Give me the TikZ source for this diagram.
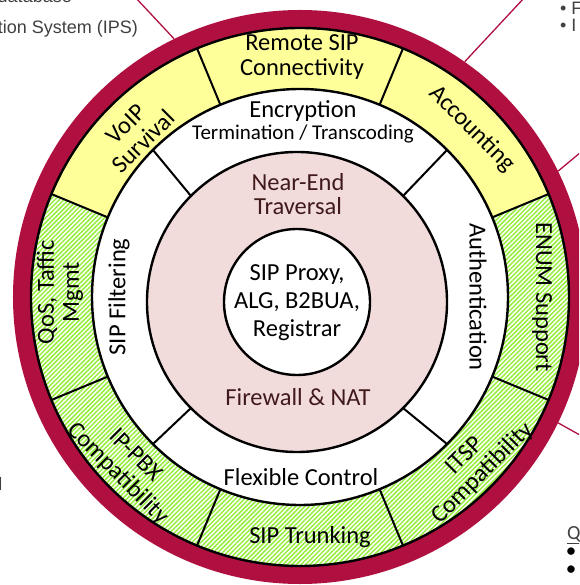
\documentclass[tikz,border=0pt]{standalone}
\usepackage{fontspec}
\setmainfont{Carlito}
\newfontfamily\slidefont{Liberation Sans}
\usepackage{xcolor}
\usepackage{tikz}
\usetikzlibrary{positioning,calc,patterns.meta}

\definecolor{ringred}{RGB}{176,16,64}
\definecolor{segyellow}{RGB}{255,255,153}
\definecolor{hatchgreen}{RGB}{150,238,60}
\definecolor{corepink}{RGB}{242,220,219}
\definecolor{corebrown}{RGB}{64,26,26}
\definecolor{slidegray}{RGB}{64,64,64}

\begin{document}
\begin{tikzpicture}[
    x=1pt, y=1pt,
    rim/.style={circle, fill=ringred, minimum size=574pt, inner sep=0pt},
    ring/.style={draw=black, line width=2.4pt},
    divider/.style={draw=black, line width=2pt},
    yellowseg/.style={fill=segyellow},
    greenseg/.style={pattern={Lines[angle=45,distance=3.2pt,line width=1.5pt]}, pattern color=hatchgreen},
    ringtext/.style={font=\fontsize{24.5}{25}\selectfont, align=center, inner sep=0pt},
    smalltext/.style={font=\fontsize{21}{23}\selectfont, align=center, inner sep=0pt},
    coretext/.style={ringtext, text=corebrown, font=\fontsize{24.5}{23.5}\selectfont},
    slidetext/.style={font=\slidefont\fontsize{18}{22}\selectfont, text=slidegray, inner sep=0pt},
    pointer/.style={draw=ringred, line width=1.3pt}
]
\useasboundingbox (-300,-288) rectangle (279,297);
\clip (-300,-288) rectangle (279,297);

\coordinate (O) at (0,0);
\coordinate (C) at (-3,-5);

% Rings
\node[rim] (outer) at (O) {};
\fill[white] (O) circle (269pt);
\foreach \a/\kind [evaluate=\a as \b using \a+45] in {22.5/yellowseg, 67.5/yellowseg, 112.5/yellowseg, 157.5/greenseg, 202.5/greenseg, 247.5/greenseg, 292.5/greenseg, 337.5/greenseg}
    \path[\kind] (\a:208) arc[start angle=\a, end angle=\b, radius=208pt] -- (\b:269) arc[start angle=\b, end angle=\a, radius=269pt] -- cycle;
\draw[ring] (O) circle (269pt);
\draw[ring, fill=white] (O) circle (208pt);
\draw[ring, fill=corepink] (C) circle (150pt);
\draw[ring, fill=white] (C) circle (73pt);

% Dividers
\foreach \a in {22.5,67.5,112.5,157.5,202.5,247.5,292.5,337.5}
    \draw[divider] (\a:208) -- (\a:269);
\foreach \a in {45,135,225,315}
    \draw[divider] (C) ++(\a:150) -- (\a:208);

% Core
\node[ringtext, font=\fontsize{24.5}{28}\selectfont] (core) at (-3,-6) {SIP Proxy,\\ALG, B2BUA,\\Registrar};
\node[coretext] (near) at (-2,103) {Near-End\\Traversal};
\node[coretext] (fw) at (-2,-100) {Firewall \& NAT};

% Inner ring
\node[ringtext, anchor=base] (encr) at (3,179) {Encryption};
\node[smalltext, anchor=base] (trans) at (3,157) {Termination / Transcoding};
\node[ringtext, rotate=90] (filt) at (-181,0) {SIP Filtering};
\node[ringtext, rotate=-90] (auth) at (178,0) {Authentication};
\node[ringtext] (flex) at (1,-180) {Flexible Control};

% Outer ring
\node[ringtext] (remote) at (2,240) {Remote SIP\\Connectivity};
\node[ringtext, rotate=45] (voip) at (-165,164) {VoIP\\Survival};
\node[ringtext, rotate=-45] (acct) at (172,168) {Accounting};
\node[ringtext, rotate=90] (qos) at (-240,5) {QoS, Taffic\\Mgmt};
\node[ringtext, rotate=-90] (enum) at (242,0) {ENUM Support};
\node[ringtext, rotate=-45] (ippbx) at (-174,-168) {IP-PBX\\Compatibility};
\node[ringtext, rotate=45] (itsp) at (174,-168) {ITSP\\Compatibility};
\node[ringtext] (trunk) at (10,-240) {SIP Trunking};

% Pointers to the slide around
\coordinate (tl) at (-165,300);
\coordinate (tr) at (225,300);
\coordinate (rt) at (287,150);
\coordinate (br) at (287,-142);
\draw[pointer] (outer.116) -- (tl);
\draw[pointer] (outer.55.7) -- (tr);
\draw[pointer] (outer.26.9) -- (rt);
\draw[pointer] (outer.-26) -- (br);

% Slide fragments
\node[slidetext, anchor=base east] (dbfrag) at (-228,294) {database};
\node[slidetext, anchor=base east] (ipsfrag) at (-162,263) {ction System (IPS)};
\node[slidetext, anchor=base west] (fbul) at (260,282) {\textbullet\ F};
\node[slidetext, anchor=base west] (ibul) at (260,265) {\textbullet\ I};
\node[slidetext, anchor=base east] (lfrag) at (-297.5,-193) {l};
\node[font=\fontsize{20}{22}\selectfont, text=slidegray, inner sep=0pt, anchor=base west] (qfrag) at (267,-242) {\underline{Q}};
\node[smalltext, text=black] (qbul1) at (271,-256) {\textbullet};
\node[smalltext, text=black] (qbul2) at (271,-274) {\textbullet};

\end{tikzpicture}
\end{document}
